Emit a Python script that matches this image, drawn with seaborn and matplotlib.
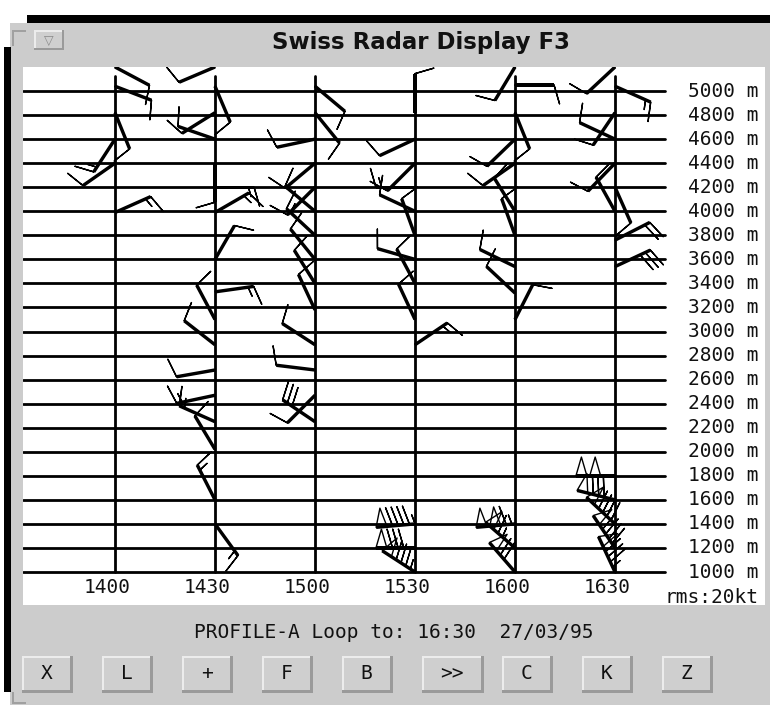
import numpy as np
import pandas as pd
import matplotlib
matplotlib.use("Agg")
import matplotlib.pyplot as plt
import seaborn as sns
from matplotlib.patches import Rectangle

# ---------------- data ----------------
TITLE = "Swiss Radar Display F3"
STATUS = "PROFILE-A Loop to: 16:30  27/03/95"
RMS = "rms:20kt"
time_labels = ["1400", "1430", "1500", "1530", "1600", "1630"]
time_minutes = [0, 30, 60, 90, 120, 150]
height_levels = list(range(1000, 5001, 200))
buttons = ["X", "L", "+", "F", "B", ">>", "C", "K", "Z"]

# wind barbs: profile time, gate height (m), direction wind comes from (deg), speed (kt)
barb_time = (["1400"] * 6 + ["1430"] * 17 + ["1500"] * 14 +
             ["1530"] * 13 + ["1600"] * 13 + ["1630"] * 14)
barb_height = [
    5200, 5040, 4820, 4600, 4400, 3990,                                    # 1400
    5200, 5040, 4820, 4600, 4400, 4200, 3990, 3600, 3330, 3100, 2890,
    2680, 2470, 2250, 2020, 1600, 1400,                                    # 1430
    5040, 4820, 4600, 4400, 4200, 4000, 3800, 3600, 3400, 3180, 2890,
    2680, 2470, 2250,                                                      # 1500
    4820, 4600, 4400, 4200, 4000, 3800, 3600, 3400, 3100, 2890,
    1400, 1200, 1000,                                                      # 1530
    5200, 5050, 4820, 4600, 4400, 4000, 3800, 3540, 3320, 3100,
    1400, 1200, 1000,                                                      # 1600
    5200, 5040, 4820, 4600, 4400, 4200, 4000, 3760, 3540,
    1800, 1600, 1400, 1200, 1000,                                          # 1630
]
barb_dir = [
    118, 111, 158, 213, 235, 66,
    247, 157, 238, 289, 180, 90, 60, 30, 82, 332, 308,
    260, 258, 294, 329, 333, 144,
    130, 141, 258, 230, 225, 310, 313, 321, 328, 335, 303,
    277, 225, 304,
    0, 245, 225, 270, 295, 340, 286, 332, 335, 56,
    265, 270, 303,
    211, 90, 158, 226, 235, 328, 340, 296, 313, 27,
    265, 311, 319,
    227, 114, 214, 295, 224, 156, 331, 63, 65,
    270, 284, 313, 326, 335,
]
barb_speed = [
    10, 10, 10, 15, 10, 15,
    10, 10, 10, 10, 10, 15, 15, 10, 15, 10, 10,
    10, 15, 15, 10, 15, 15,
    10, 10, 10, 10, 10, 10, 15, 10, 10, 10, 10,
    10, 10, 30,
    10, 10, 10, 15, 10, 10, 10, 10, 10, 15,
    95, 80, 85,
    10, 10, 10, 10, 10, 10, 10, 10, 10, 10,
    115, 65, 70,
    10, 15, 10, 10, 10, 10, 10, 20, 30,
    100, 80, 90, 90, 85,
]

# ---------------- layout helpers ----------------
W, H = 774, 707
GRAY = "#cccccc"
sns.set_theme(style="white")
plt.rcParams['font.family'] = ['DejaVu Sans Mono', 'DejaVu Sans']

fig = plt.figure(figsize=(W / 100, H / 100), dpi=100)
fig.patch.set_facecolor("white")


def fx(px):
    return px / W


def fy(py):
    return 1 - py / H


def prect(x0, y0, x1, y1, color, z=0, **kw):
    r = Rectangle((fx(x0), fy(y1)), (x1 - x0) / W, (y1 - y0) / H,
                  transform=fig.transFigure, facecolor=color,
                  edgecolor="none", zorder=z, **kw)
    fig.add_artist(r)
    return r


def bevel(x0, y0, x1, y1, t=3):
    prect(x0, y0, x1, y1, "#9a9a9a", z=1)            # dark bottom/right
    prect(x0, y0, x1 - t, y1 - t, "#ececec", z=1.1)  # light top/left
    prect(x0 + 2, y0 + 2, x1 - t, y1 - t, "#cfcfcf", z=1.2)


# window frame
prect(10, 23, 770, 705, GRAY, z=0)
prect(27, 15, 770, 23, "black", z=0.5)
prect(4, 47, 11, 692, "black", z=0.5)
prect(12, 30, 14, 46, "#a0a0a0", z=0.5)
prect(12, 30, 26, 32, "#a0a0a0", z=0.5)
prect(12, 692, 14, 704, "#a0a0a0", z=0.5)
prect(12, 702, 26, 704, "#a0a0a0", z=0.5)

# title bar
bevel(34, 30, 64, 50, t=2)
fig.text(fx(49), fy(40), "▽", ha="center", va="center", fontsize=9,
         color="#8a8a8a", family="DejaVu Sans", zorder=3)
fig.text(fx(421), fy(43), TITLE, ha="center", va="center", fontsize=16.5,
         fontweight="bold", family="DejaVu Sans", color="#111111", zorder=3)

# ---------------- plot panel ----------------
ax = fig.add_axes([fx(23), fy(605), (765 - 23) / W, (605 - 67) / H])
ax.set_facecolor("white")
ax.set_xlim(-27.6, 195)
ax.set_ylim(725.6, 5200)
for s in ax.spines.values():
    s.set_visible(False)
ax.set_xticks([])
ax.set_yticks([])
ax.grid(False)

# horizontal height lines
hl = pd.DataFrame({
    "t": [-27.6, 165.0] * len(height_levels),
    "h": np.repeat(height_levels, 2),
})
sns.lineplot(data=hl, x="t", y="h", units="h", estimator=None, sort=False,
             color="black", linewidth=2.0, legend=False, ax=ax, zorder=2)
# vertical time lines
vl = pd.DataFrame({
    "t": np.repeat(time_minutes, 2),
    "h": [1000, 5125] * len(time_minutes),
})
sns.lineplot(data=vl, x="t", y="h", units="t", estimator=None, sort=False,
             orient="y", color="black", linewidth=2.0, legend=False, ax=ax,
             zorder=2)

# labels
for t, lab in zip(time_minutes, time_labels):
    ax.text(t - 2.4, 875, lab, ha="center", va="center", fontsize=14,
            color="#111111")
for h in height_levels:
    ax.text(171.9, h, f"{h} m", ha="left", va="center", fontsize=14,
            color="#111111")
ax.text(165, 792, RMS, ha="left", va="center", fontsize=14, color="#111111")

# wind barbs
tmap = dict(zip(time_labels, time_minutes))
bt = np.array([tmap[t] for t in barb_time], dtype=float)
bh = np.array(barb_height, dtype=float)
th = np.deg2rad(np.array(barb_dir, dtype=float))
sp = np.array(barb_speed, dtype=float)
u = -sp * np.sin(th)
v = -sp * np.cos(th)

# thick staffs
ax.quiver(bt, bh, np.sin(th), np.cos(th), angles="uv", units="dots",
          scale_units="dots", scale=1 / 39.0, width=3.4, headwidth=0,
          headlength=0, headaxislength=0, pivot="tail", color="black",
          zorder=4)
ax.barbs(bt, bh, u, v, length=7.5, pivot="tip", barbcolor="black",
         flagcolor="none", linewidth=1.0, zorder=5,
         sizes=dict(spacing=0.145, height=0.48, width=0.28, emptybarb=0.1))

# ---------------- bottom status + buttons ----------------
fig.text(fx(394), fy(633), STATUS, ha="center", va="center", fontsize=14,
         color="#111111", zorder=3)
bx = [22, 102, 182, 262, 342, 422, 502, 582, 662]
for x0, lab in zip(bx, buttons):
    w = 62 if lab == ">>" else 51
    bevel(x0, 656, x0 + w, 693)
    fig.text(fx(x0 + w / 2 - 1), fy(673.5), lab, ha="center", va="center",
             fontsize=14, color="#111111", zorder=3)

fig.savefig("out.png", dpi=100, facecolor="white")
